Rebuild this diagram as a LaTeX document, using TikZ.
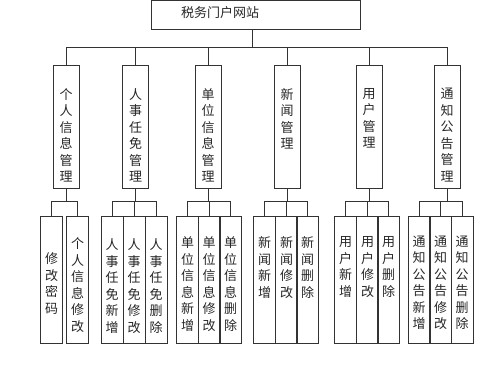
\documentclass[tikz,border=0pt]{standalone}
\usepackage{fontspec}
\newfontfamily\cjk{Noto Sans CJK SC}
\usetikzlibrary{calc}
\definecolor{ink}{HTML}{333333}
\tikzset{
  wire/.style={draw=ink,line width=0.9pt},
  box/.style={draw=ink,line width=0.9pt,inner sep=0pt},
  mainbox/.style={box,minimum width=26pt,minimum height=123pt},
  subbox/.style={box,minimum width=22pt,minimum height=127pt},
  txt/.style={inner sep=0pt,align=center,text=black!85}
}
\begin{document}
\begin{tikzpicture}[x=1pt,y=-1pt,font=\cjk\fontsize{13}{16.5}\selectfont]
  \useasboundingbox (0,0) rectangle (500,381);
  % top
  \node[box,minimum width=209pt,minimum height=29pt] (root) at (255.5,14.5) {};
  \node[txt] (root-t) at (220,13) {税务门户网站};
  \coordinate (bus) at (252,47);
  \draw[wire] (root.south -| bus) -- (bus);
  % second level
  \foreach \m/\x/\t in {m1/66/{个\\人\\信\\息\\管\\理},m2/135.5/{人\\事\\任\\免\\管\\理},
      m3/208/{单\\位\\信\\息\\管\\理},m4/287/{新\\闻\\管\\理},
      m5/369/{用\\户\\管\\理},m6/447/{通\\知\\公\\告\\管\\理}}{
    \node[mainbox] (\m) at (\x,127) {};
    \node[txt,anchor=north] (\m-t) at ([yshift=-23pt]\m.north) {\t};
    \draw[wire] (bus) -| (\m.north);
    \draw[wire] (\m.south) -- ++(0,12) coordinate (\m-b);
  }
  % third level
  \foreach \p/\c/\x/\o/\t in {m1/s11/51.5/37/{修\\改\\密\\码},m1/s12/77.5/22/{个\\人\\信\\息\\修\\改},
      m2/s21/112/23/{人\\事\\任\\免\\新\\增},m2/s22/134/23/{人\\事\\任\\免\\修\\改},m2/s23/156/23/{人\\事\\任\\免\\删\\除},
      m3/s31/187.5/21/{单\\位\\信\\息\\新\\增},m3/s32/209/21/{单\\位\\信\\息\\修\\改},m3/s33/230.5/21/{单\\位\\信\\息\\删\\除},
      m4/s41/264.5/21/{新\\闻\\新\\增},m4/s42/286.5/21/{新\\闻\\修\\改},m4/s43/307.5/21/{新\\闻\\删\\除},
      m5/s51/345.5/21/{用\\户\\新\\增},m5/s52/367.5/21/{用\\户\\修\\改},m5/s53/388.5/21/{用\\户\\删\\除},
      m6/s61/419/20/{通\\知\\公\\告\\新\\增},m6/s62/440.5/20/{通\\知\\公\\告\\修\\改},m6/s63/462/20/{通\\知\\公\\告\\删\\除}}{
    \node[subbox] (\c) at (\x,279.5) {};
    \node[txt,anchor=north] (\c-t) at ([yshift=-\o pt]\c.north) {\t};
    \draw[wire] (\p-b) -| (\c.north);
  }
\end{tikzpicture}
\end{document}
